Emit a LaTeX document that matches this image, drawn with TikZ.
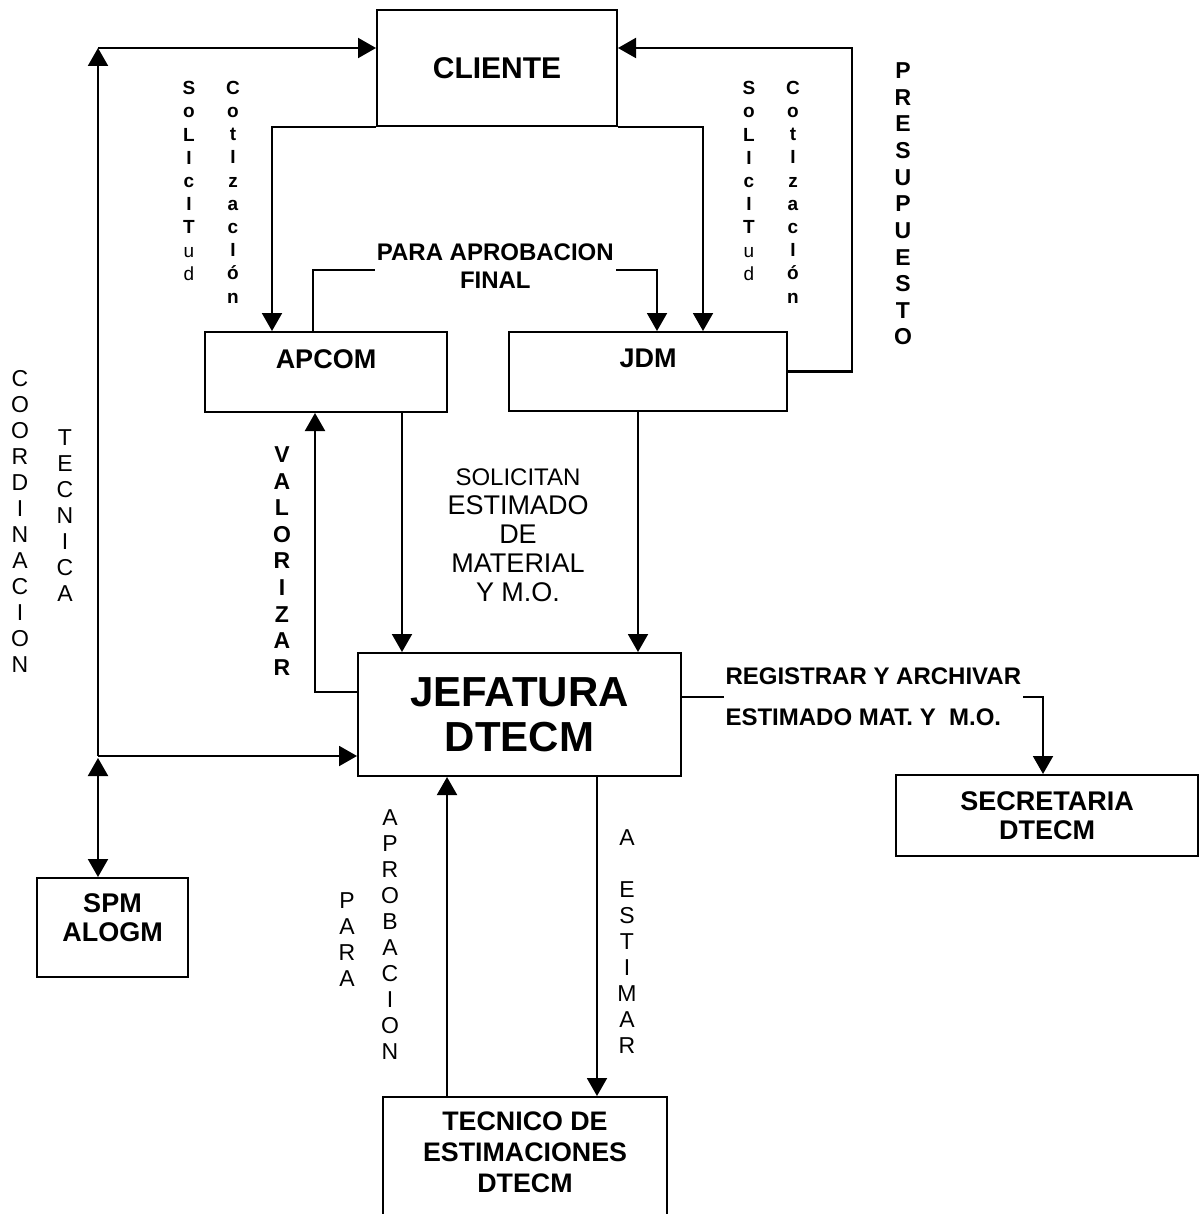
\documentclass[tikz,border=0pt]{standalone}
\usepackage{fontspec}
\setmainfont{Liberation Sans}
\usetikzlibrary{arrows.meta,positioning}

\begin{document}
\begin{tikzpicture}[x=0.5pt,y=-0.5pt]
	% formatos
	\tikzstyle{caja} = [draw, line width=1pt, inner sep=0pt]
	\tikzstyle{titulo} = [inner sep=0pt, align=center, font=\bfseries\fontsize{13.5}{14.5}\selectfont]
	\tikzstyle{flecha} = [-{Triangle[length=9pt,width=10pt]}, line width=1pt]
	\tikzstyle{doble} = [{Triangle[length=9pt,width=10pt]}-{Triangle[length=9pt,width=10pt]}, line width=1pt]
	\tikzstyle{etiq} = [inner sep=1pt, fill=white, font=\bfseries\fontsize{12}{14}\selectfont]
	\tikzstyle{vert} = [inner sep=0pt, align=center, font=\fontsize{11.5}{13}\selectfont]
	\tikzstyle{vertb} = [vert, font=\bfseries\fontsize{11.5}{13.3}\selectfont]
	\tikzstyle{vertc} = [vert, font=\bfseries\fontsize{9.5}{11.6}\selectfont]
	\useasboundingbox (0,0) rectangle (1199,1214);
	% nodos
	\node [caja, minimum width=120pt, minimum height=58pt, font=\bfseries\fontsize{15}{18}\selectfont] (cli) at (497,68) {CLIENTE};
	\node [caja, minimum width=121pt, minimum height=40pt] (apcom) at (326,372) {};
	\node [titulo, below=9pt of apcom.north] {APCOM};
	\node [caja, minimum width=139pt, minimum height=39.5pt] (jdm) at (648,371.5) {};
	\node [titulo, below=9pt of jdm.north] {JDM};
	\node [caja, minimum width=161.5pt, minimum height=61.5pt, align=center, font=\bfseries\fontsize{21}{22.5}\selectfont] (jef) at (519.5,714.5) {JEFATURA\\DTECM};
	\node [caja, titulo, minimum width=151pt, minimum height=40.5pt] (sec) at (1047,815.5) {SECRETARIA\\DTECM};
	\node [caja, minimum width=75.5pt, minimum height=49.5pt] (spm) at (112.5,927.5) {};
	\node [titulo, below=8pt of spm.north] {SPM\\ALOGM};
	\node [caja, minimum width=142pt, minimum height=72pt] (tec) at (525,1169) {};
	\node [titulo, below=7.5pt of tec.north, font=\bfseries\fontsize{13.4}{15.5}\selectfont] {TECNICO DE\\ESTIMACIONES\\DTECM};
	% textos verticales
	\node [vertc] at (189,181) {S\\o\\L\\I\\c\\I\\T\\\mdseries u\\\mdseries d};
	\node [vertc] at (233,192) {C\\o\\t\\I\\z\\a\\c\\I\\ó\\n};
	\node [vertc] at (749,181) {S\\o\\L\\I\\c\\I\\T\\\mdseries u\\\mdseries d};
	\node [vertc] at (793,192) {C\\o\\t\\I\\z\\a\\c\\I\\ó\\n};
	\node [vertb] at (903,204) {P\\R\\E\\S\\U\\P\\U\\E\\S\\T\\O};
	\node [vertb] at (282,561) {V\\A\\L\\O\\R\\I\\Z\\A\\R};
	\node [vert] at (20,521) {C\\O\\O\\R\\D\\I\\N\\A\\C\\I\\O\\N};
	\node [vert] at (65,516) {T\\E\\C\\N\\I\\C\\A};
	\node [vert] at (347,940) {P\\A\\R\\A};
	\node [vert] at (390,935) {A\\P\\R\\O\\B\\A\\C\\I\\O\\N};
	\node [vert] at (627,942) {A\\[13pt]E\\S\\T\\I\\M\\A\\R};
	\node [inner sep=0pt, align=center, font=\fontsize{13.5}{14.5}\selectfont] at (518,535)
		{{\fontsize{12}{14.5}\selectfont SOLICITAN}\\ESTIMADO\\DE\\MATERIAL\\Y M.O.};
	% puntos de paso
	\coordinate (ci) at (98,48);
	\coordinate (cb) at (98,756);
	\coordinate (pr) at (852,48);
	\coordinate (pa) at (313,270);
	\coordinate (pb) at (657,270);
	\coordinate (val) at (315,692);
	\coordinate (reg) at (1043,697);
	\coordinate (v1) at (402,0);
	\coordinate (v2) at (638,0);
	\coordinate (v4) at (447,0);
	\coordinate (v5) at (597,0);
	\coordinate (v6) at (272,0);
	\coordinate (v7) at (703,0);
	% relaciones
	\draw [flecha] (cb) -- (ci);
	\draw [flecha] (ci) -- (ci -| cli.west);
	\draw [flecha] (cb) -- (cb -| jef.west);
	\draw [doble] ([yshift=-1pt]cb) -- (cb |- spm.north);
	\draw [flecha] (cli.south west) -| (v6 |- apcom.north);
	\draw [flecha] (cli.south east) -| (v7 |- jdm.north);
	\draw [flecha] (pa |- apcom.north) -- (pa) -- node [etiq, align=center, pos=.53, yshift=2pt] {PARA APROBACION\\FINAL} (pb) -- (pb |- jdm.north);
	\draw [flecha] (jdm.east) -| (pr) -- (pr -| cli.east);
	\draw [line width=1.6pt] (jdm.east) -- (jdm.east -| pr);
	\draw [flecha] (v1 |- apcom.south) -- (v1 |- jef.north);
	\draw [flecha] (v2 |- jdm.south) -- (v2 |- jef.north);
	\draw [flecha] (val -| jef.west) -- (val) -- (val |- apcom.south);
	\draw [flecha] (reg -| jef.east) -- node [etiq, align=left, pos=.53, font=\bfseries\fontsize{12}{20.5}\selectfont] {REGISTRAR Y ARCHIVAR\\ESTIMADO MAT. Y~~M.O.} (reg) -- (reg |- sec.north);
	\draw [flecha] (v4 |- tec.north) -- (v4 |- jef.south);
	\draw [flecha] (v5 |- jef.south) -- (v5 |- tec.north);
\end{tikzpicture}
\end{document}
